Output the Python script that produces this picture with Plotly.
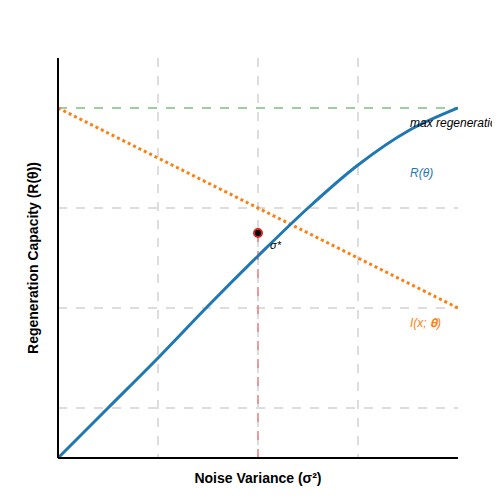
import plotly.graph_objects as go

noise_x = [0, 0.5, 1, 1.5, 2, 2.5, 3, 3.5, 4]
regen_y = [0, 0.5, 1.0, 1.52, 2.02, 2.5, 2.93, 3.27, 3.5]
info_x = [0, 4]
info_y = [3.5, 1.5]
max_regen = 3.5
sigma_star = 2.0
sigma_star_y = 2.25

fig = go.Figure()
fig.add_trace(go.Scatter(x=[0, 4], y=[max_regen, max_regen], mode="lines",
                         line=dict(color="#7fbf7f", width=1.5, dash="dash")))
fig.add_trace(go.Scatter(x=[sigma_star, sigma_star], y=[0, sigma_star_y], mode="lines",
                         line=dict(color="#e88080", width=1.5, dash="dash")))
fig.add_trace(go.Scatter(x=info_x, y=info_y, mode="lines",
                         line=dict(color="#ff7f0e", width=3, dash="dot")))
fig.add_trace(go.Scatter(x=noise_x, y=regen_y, mode="lines", line_shape="spline",
                         line=dict(color="#1f77b4", width=3)))
fig.add_trace(go.Scatter(x=[sigma_star], y=[sigma_star_y], mode="markers",
                         marker=dict(color="black", size=8, line=dict(color="#d62728", width=2))))

fig.add_annotation(x=3.5, y=3.35, text="<i>max regeneration capacity</i>", font_color="black",
                   showarrow=False, xanchor="left", font_size=12, font_family="Liberation Sans")
fig.add_annotation(x=3.5, y=2.85, text="<i>R(θ)</i>", font_color="#1f77b4",
                   showarrow=False, xanchor="left", font_size=12, font_family="Liberation Sans")
fig.add_annotation(x=3.5, y=1.35, text="<i>I(x; \U0001D6C9)</i>", font_color="#ff7f0e",
                   showarrow=False, xanchor="left", font_size=12, font_family="Liberation Sans")
fig.add_annotation(x=2.1, y=2.13, text="<i>σ*</i>", font_color="black",
                   showarrow=False, xanchor="left", font_size=11, font_family="Liberation Sans")

grid = dict(showgrid=True, gridcolor="#dddddd", griddash="dash", gridwidth=1.5,
            showticklabels=False, ticks="", zeroline=False, showline=False, automargin=False)
fig.update_xaxes(range=[0, 4], tickvals=[1, 2, 3], **grid,
                 title=dict(text="<b>Noise Variance (σ²)</b>", font=dict(size=14), standoff=15))
fig.update_yaxes(range=[0, 4], tickvals=[0.5, 1.5, 2.5], **grid,
                 title=dict(text="<b>Regeneration Capacity (R(θ))</b>", font=dict(size=14), standoff=15))
fig.add_shape(type="line", xref="paper", yref="paper", x0=0, y0=0, x1=1, y1=0, line=dict(color="black", width=2))
fig.add_shape(type="line", xref="paper", yref="paper", x0=0, y0=0, x1=0, y1=1, line=dict(color="black", width=2))
fig.update_layout(width=500, height=500, margin=dict(l=50, r=50, t=50, b=50),
                  plot_bgcolor="white", paper_bgcolor="white", showlegend=False,
                  font=dict(family="Liberation Sans", color="black"))
fig.write_html("out.html")
